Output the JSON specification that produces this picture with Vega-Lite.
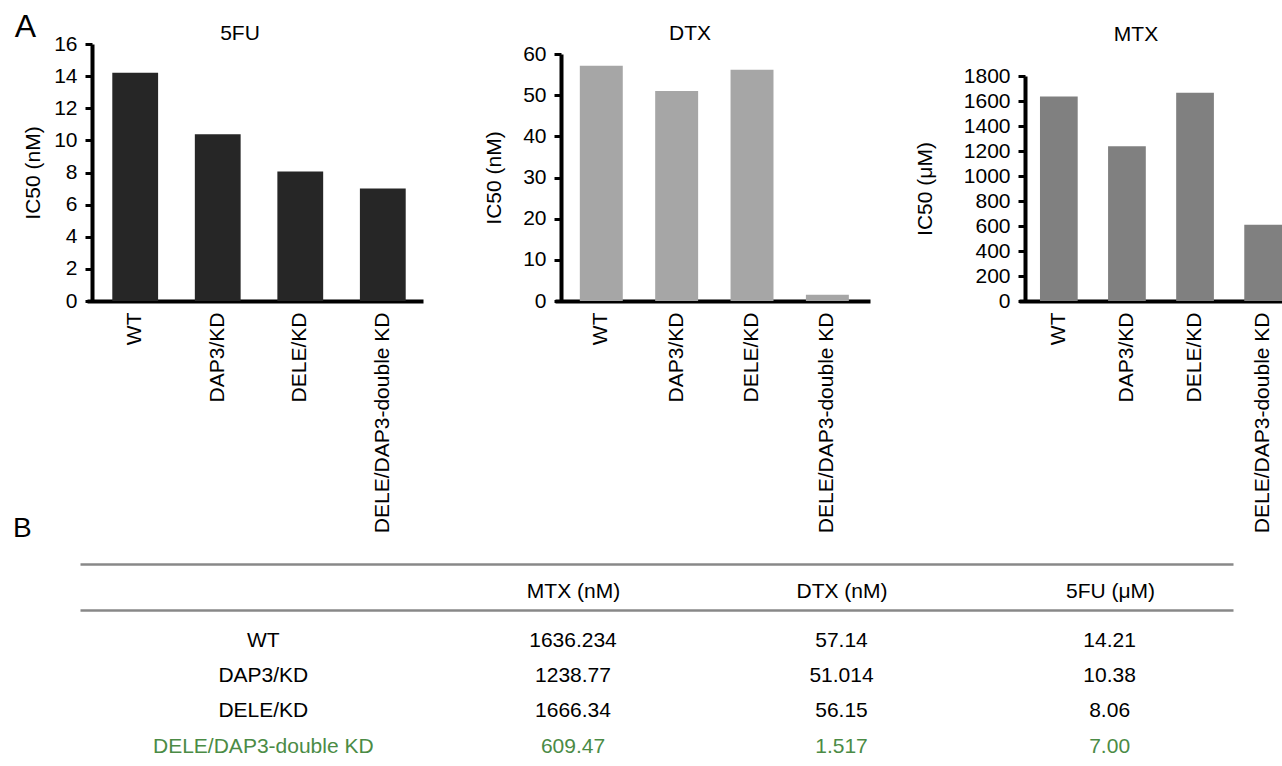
{
  "$schema": "https://vega.github.io/schema/vega-lite/v6.json",
  "background": "white",
  "padding": {"left": 13, "top": 11, "right": 0, "bottom": 0},
  "autosize": {"type": "pad"},
  "datasets": {
    "ic50": [
      {"group": "WT", "drug": "MTX", "value": 1636.234},
      {"group": "DAP3/KD", "drug": "MTX", "value": 1238.77},
      {"group": "DELE/KD", "drug": "MTX", "value": 1666.34},
      {"group": "DELE/DAP3-double KD", "drug": "MTX", "value": 609.47},
      {"group": "WT", "drug": "DTX", "value": 57.14},
      {"group": "DAP3/KD", "drug": "DTX", "value": 51.014},
      {"group": "DELE/KD", "drug": "DTX", "value": 56.15},
      {"group": "DELE/DAP3-double KD", "drug": "DTX", "value": 1.517},
      {"group": "WT", "drug": "5FU", "value": 14.21},
      {"group": "DAP3/KD", "drug": "5FU", "value": 10.38},
      {"group": "DELE/KD", "drug": "5FU", "value": 8.06},
      {"group": "DELE/DAP3-double KD", "drug": "5FU", "value": 7.00}
    ]
  },
  "spacing": -18,
  "vconcat": [
    {
      "title": {"text": "A", "anchor": "start", "fontSize": 32, "offset": -21.7, "dx": -8},
      "bounds": "flush",
      "spacing": 138,
      "hconcat": [
        {
          "data": {"name": "ic50"},
          "transform": [{"filter": "datum.drug === '5FU'"}],
          "width": 331,
          "height": 257,
          "title": {"text": "5FU", "frame": "group", "dx": -17.5, "offset": -10.5},
          "mark": {"type": "bar", "color": "#262626"},
          "encoding": {
            "x": {"field": "group", "type": "nominal",
              "sort": ["WT", "DAP3/KD", "DELE/KD", "DELE/DAP3-double KD"],
              "scale": {"range": [-5, 331], "paddingInner": 0.445, "paddingOuter": 0.258, "align": 0.594},
              "axis": {"title": null}},
            "y": {"field": "value", "type": "quantitative",
              "scale": {"domain": [0, 16], "nice": false},
              "axis": {"title": "IC50 (nM)", "values": [0, 2, 4, 6, 8, 10, 12, 14, 16], "titlePadding": 10}}
          }
        },
        {
          "data": {"name": "ic50"},
          "transform": [{"filter": "datum.drug === 'DTX'"}],
          "width": 326,
          "height": 257,
          "title": {"text": "DTX", "frame": "group", "dx": -34, "offset": -0.5},
          "mark": {"type": "bar", "color": "#a6a6a6"},
          "encoding": {
            "x": {"field": "group", "type": "nominal",
              "sort": ["WT", "DAP3/KD", "DELE/KD", "DELE/DAP3-double KD"],
              "scale": {"range": [-6, 309], "paddingInner": 0.43, "paddingOuter": 0.305, "align": 0.54},
              "axis": {"title": null}},
            "y": {"field": "value", "type": "quantitative",
              "scale": {"domain": [0, 60], "nice": false, "range": [257, 10]},
              "axis": {"title": "IC50 (nM)", "values": [0, 10, 20, 30, 40, 50, 60], "titlePadding": 18}}
          }
        },
        {
          "data": {"name": "ic50"},
          "transform": [{"filter": "datum.drug === 'MTX'"}],
          "width": 257,
          "height": 257,
          "title": {"text": "MTX", "frame": "group", "dx": -17.5, "offset": -0.5},
          "mark": {"type": "bar", "color": "#808080"},
          "encoding": {
            "x": {"field": "group", "type": "nominal",
              "sort": ["WT", "DAP3/KD", "DELE/KD", "DELE/DAP3-double KD"],
              "scale": {"range": [-6, 257], "paddingInner": 0.446, "paddingOuter": 0.154, "align": 1},
              "axis": {"title": null}},
            "y": {"field": "value", "type": "quantitative",
              "scale": {"domain": [0, 1800], "nice": false, "range": [257, 32]},
              "axis": {"title": "IC50 (μM)", "values": [0, 200, 400, 600, 800, 1000, 1200, 1400, 1600, 1800], "format": "d", "titlePadding": 28}}
          }
        }
      ]
    },
    {
      "data": {"name": "ic50"},
      "width": 1141,
      "height": 150,
      "title": {"text": "B", "anchor": "start", "fontSize": 28, "offset": 21, "dx": -79},
      "resolve": {"scale": {"x": "independent"}, "axis": {"x": "independent"}},
      "encoding": {
        "y": {"field": "group", "type": "nominal",
          "scale": {"type": "point", "domain": ["WT", "DAP3/KD", "DELE/KD", "DELE/DAP3-double KD"], "padding": 0.62, "align": 0.7},
          "axis": null}
      },
      "layer": [
        {
          "transform": [{"filter": "datum.drug !== '5FU'"}],
          "mark": {"type": "text", "fontSize": 21, "baseline": "middle"},
          "encoding": {
            "x": {"field": "drug", "type": "nominal",
              "scale": {"type": "point", "domain": ["MTX", "DTX", "5FU"], "range": [481, 1018], "padding": 0},
              "axis": {"orient": "top", "title": null, "ticks": false, "tickSize": 0, "labelAngle": 0, "domain": false,
                "labelPadding": 9, "labelFontSize": 21, "labelLimit": 300,
                "labelExpr": "datum.value === 'MTX' ? 'MTX (nM)' : datum.value === 'DTX' ? 'DTX (nM)' : '5FU (μM)'"}},
            "text": {"field": "value", "type": "quantitative", "format": ".3~f"},
            "color": {"condition": {"test": "datum.group === 'DELE/DAP3-double KD'", "value": "#4b8b45"}, "value": "#000000"}
          }
        },
        {
          "transform": [{"filter": "datum.drug === '5FU'"}],
          "mark": {"type": "text", "fontSize": 21, "baseline": "middle"},
          "encoding": {
            "x": {"field": "drug", "type": "nominal",
              "scale": {"type": "point", "domain": ["5FU"], "range": [-12, 1141], "padding": 0, "align": 0.893},
              "axis": {"orient": "top", "title": null, "labels": false, "ticks": false, "tickSize": 0,
                "domainColor": "#888888", "domainWidth": 2.5}},
            "text": {"field": "value", "type": "quantitative", "format": ".2f"},
            "color": {"condition": {"test": "datum.group === 'DELE/DAP3-double KD'", "value": "#4b8b45"}, "value": "#000000"}
          }
        },
        {
          "transform": [{"filter": "datum.drug === '5FU'"}],
          "mark": {"type": "text", "fontSize": 21, "baseline": "middle"},
          "encoding": {
            "x": {"datum": "label", "type": "nominal",
              "scale": {"type": "point", "domain": ["label"], "range": [-12, 1141], "padding": 0, "align": 0.159},
              "axis": {"orient": "top", "title": null, "offset": 46, "labels": false, "ticks": false, "tickSize": 0,
                "domainColor": "#888888", "domainWidth": 2.5}},
            "text": {"field": "group", "type": "nominal"},
            "color": {"condition": {"test": "datum.group === 'DELE/DAP3-double KD'", "value": "#4b8b45"}, "value": "#000000"}
          }
        }
      ]
    }
  ],
  "config": {
    "font": "Liberation Sans",
    "view": {"stroke": null},
    "title": {"fontSize": 21, "fontWeight": "normal", "color": "#000000"},
    "axis": {
      "domainColor": "#000000", "domainWidth": 4, "tickColor": "#000000", "tickWidth": 3, "tickSize": 7,
      "labelFontSize": 21, "labelColor": "#000000", "labelPadding": 8, "titleFontSize": 21,
      "titleFontWeight": "normal", "titleColor": "#000000", "grid": false
    },
    "axisX": {"ticks": false, "tickSize": 0, "labelAngle": -90, "labelFontSize": 21, "labelPadding": 11, "labelLimit": 400}
  }
}
